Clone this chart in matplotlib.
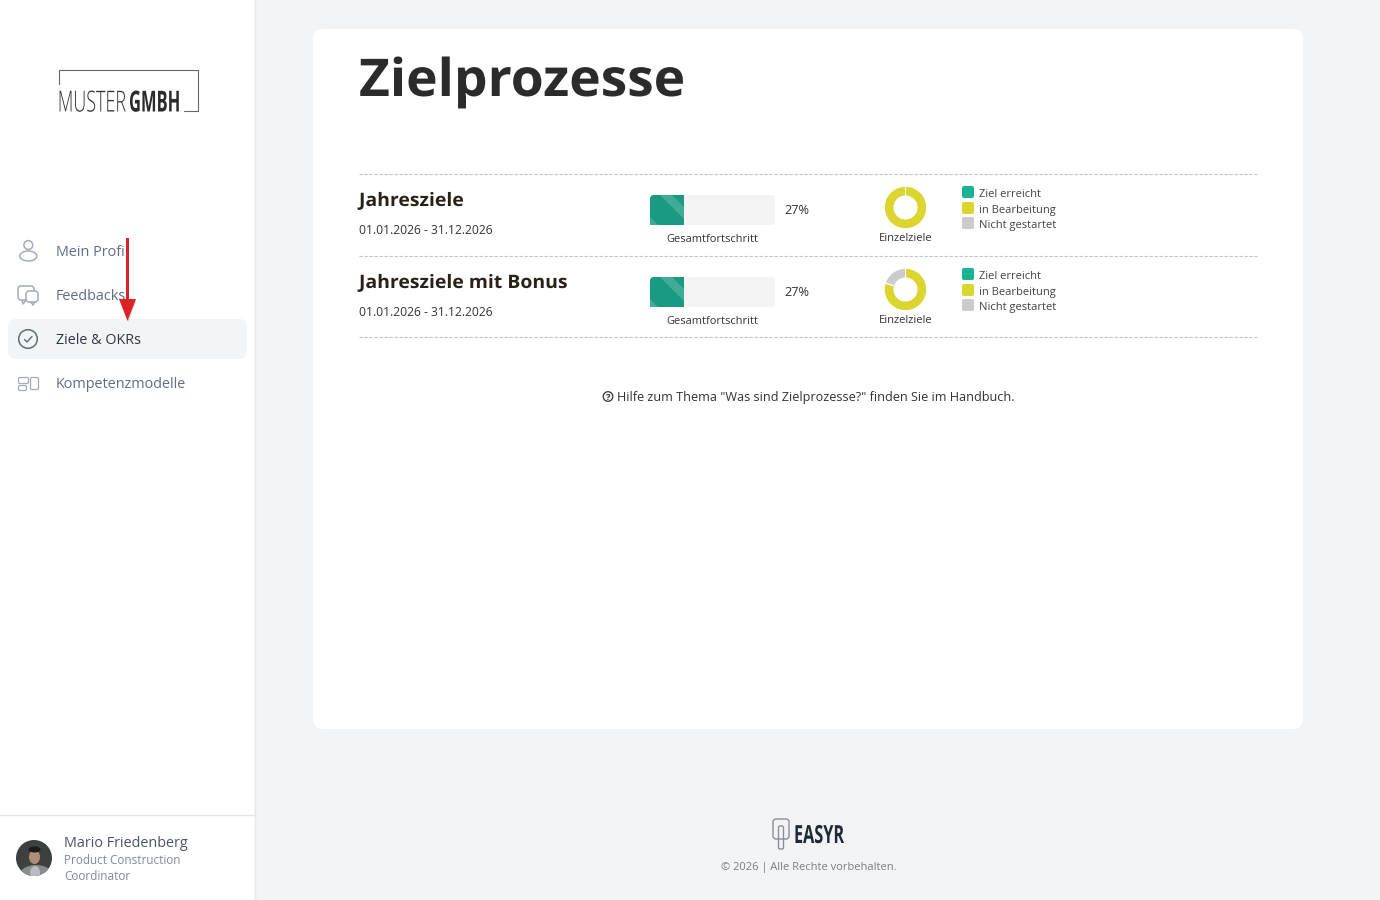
#!/usr/bin/env python3
import matplotlib
matplotlib.use('Agg')
import matplotlib.pyplot as plt
import matplotlib.patches as mplpatches
from matplotlib.patheffects import AbstractPathEffect
from matplotlib.transforms import Affine2D

# sidebar and page texts
nav_labels = ['Mein Profil', 'Feedbacks', 'Ziele & OKRs', 'Kompetenzmodelle']
page_title = 'Zielprozesse'
help_text = 'Hilfe zum Thema "Was sind Zielprozesse?" finden Sie im Handbuch.'
footer_text = '\u00a9 2026 | Alle Rechte vorbehalten.'
user_name = 'Mario Friedenberg'
user_role = ['Product Construction', 'Coordinator']

# one entry per goal process
goal_names = ['Jahresziele', 'Jahresziele mit Bonus']
goal_dates = ['01.01.2026 - 31.12.2026', '01.01.2026 - 31.12.2026']
progress_pct = [27, 27]

# share of single goals: reached, in progress, not started
status_labels = ['Ziel erreicht', 'in Bearbeitung', 'Nicht gestartet']
status_colors = ['#1ab394', '#dcd530', '#cccccc']
reached = [0, 0]
in_progress = [100, 80]
not_started = [0, 20]

plt.rcParams['font.family'] = ['Open Sans', 'DejaVu Sans']

W, H = 1380, 900
BG = '#f3f4f6'
ICON = '#a3abbb'
row_tops = [174, 256]


class Squeeze(AbstractPathEffect):
    # narrows or widens a text around an anchor x, for the condensed logos
    def __init__(self, x0, sx):
        super().__init__()
        self.x0 = x0
        self.sx = sx

    def draw_path(self, renderer, gc, tpath, affine, rgbFace=None):
        squeezed = affine + Affine2D().translate(-self.x0, 0).scale(self.sx, 1).translate(self.x0, 0)
        renderer.draw_path(gc, tpath, squeezed, rgbFace)


fig = plt.figure(figsize=(W / 100, H / 100), dpi=100, facecolor=BG)
page = fig.add_axes([0, 0, 1, 1])
page.set_xlim(0, W)
page.set_ylim(H, 0)
page.axis('off')


def px(size):
    return size * 0.72


def label(x, y, s, size, color='#333333', **kw):
    return page.text(x, y, s, fontsize=px(size), color=color, va='baseline', **kw)


def rbox(x, y, w, h, r, color, **kw):
    box = mplpatches.FancyBboxPatch((x + r, y + r), w - 2 * r, h - 2 * r,
                                    boxstyle='round,pad=%f,rounding_size=%f' % (r, r),
                                    facecolor=color, edgecolor='none', **kw)
    page.add_patch(box)
    return box


def stroke(xs, ys, color=ICON, lw=1.2, **kw):
    page.plot(xs, ys, color=color, lw=lw, solid_capstyle='round', **kw)


def outline(patch):
    page.add_patch(patch)


# sidebar and card
page.add_patch(mplpatches.Rectangle((0, 0), 255, H, facecolor='white', edgecolor='none'))
stroke([255, 255], [0, H], color='#e5e7eb', lw=1)
stroke([0, 255], [815, 815], color='#e5e7eb', lw=1)
rbox(313, 29, 990, 700, 10, 'white')
rbox(8, 319, 239, 40, 8, BG)

# logo
stroke([59, 59, 198, 198, 184], [84, 70, 70, 111, 111], color='#666666', lw=0.8)
t = label(126, 111.5, 'MUSTER', 29, color='#333333', fontweight='light', ha='right')
t.set_path_effects([Squeeze(126, 0.62)])
t = label(129, 111.5, 'GMBH', 29, color='#2b2b2b', fontweight='bold')
t.set_path_effects([Squeeze(129, 0.57)])

# nav
nav_base = [256, 300, 344, 388]
for i, name in enumerate(nav_labels):
    color = '#2d3748' if i == 2 else '#5f6f86'
    label(56, nav_base[i], name, 14.45, color=color)

# person icon
outline(mplpatches.Circle((28.3, 245), 4.4, fill=False, ec=ICON, lw=1.1))
outline(mplpatches.Ellipse((28.3, 256), 17, 10, fill=False, ec=ICON, lw=1.1))
# chat icon
outline(mplpatches.FancyBboxPatch((21, 289), 10, 8, boxstyle='round,pad=3,rounding_size=3', fill=False, ec=ICON, lw=1.1))
outline(mplpatches.FancyBboxPatch((28.5, 293.5), 7, 6, boxstyle='round,pad=2.5,rounding_size=3', fc='white', ec=ICON, lw=1.1))
stroke([22, 23, 26], [300, 304, 300], lw=1.1)
stroke([31, 33, 35], [302, 305, 302], lw=1.1)
# check icon
outline(mplpatches.Circle((28, 339), 9.3, fill=False, ec='#5f6b80', lw=1.1))
stroke([24.5, 27, 32], [339.5, 342, 336.5], color='#5f6b80', lw=1)
# model icon
outline(mplpatches.FancyBboxPatch((20, 379), 7, 3, boxstyle='round,pad=1.5,rounding_size=1.5', fill=False, ec=ICON, lw=0.9))
outline(mplpatches.FancyBboxPatch((20, 387), 5, 2, boxstyle='round,pad=1.5,rounding_size=1.5', fill=False, ec=ICON, lw=0.9))
outline(mplpatches.FancyBboxPatch((32, 379), 5, 9, boxstyle='round,pad=1.5,rounding_size=1.5', fill=False, ec=ICON, lw=0.9))

# red arrow on top of the nav
arrow_shadow = mplpatches.Polygon([(120.5, 301), (136.5, 301), (128.5, 322)], facecolor='#000000', alpha=0.12, edgecolor='none')
page.add_patch(arrow_shadow)
page.add_patch(mplpatches.Rectangle((126, 238), 3, 64, facecolor='#dd2226', edgecolor='none', zorder=5))
page.add_patch(mplpatches.Polygon([(119, 299), (136, 299), (127.5, 321)], facecolor='#dd2226', edgecolor='none', zorder=5))

# title
t = label(359, 96, page_title, 52, color='#2b2b2b', fontweight='bold')
t.set_path_effects([Squeeze(359, 1.025)])

# dashed rules
for y in [174, 256, 337]:
    page.plot([359, 1257], [y, y], color='#c4c4c4', lw=0.8, ls=(0, (3, 1.5)))

# goal rows
for i, name in enumerate(goal_names):
    top = row_tops[i]
    t = label(359, top + 32, name, 18.5, color='#2a2118', fontweight='bold')
    t.set_path_effects([Squeeze(359, 1.05)])
    label(359, top + 60, goal_dates[i], 12.1, color='#333333')

    # progress bar
    bar_x, bar_y, bar_w, bar_h = 650, top + 21, 125, 30
    track = rbox(bar_x, bar_y, bar_w, bar_h, 4, '#f4f4f4')
    bar_ax = fig.add_axes([bar_x / W, 1 - (bar_y + bar_h) / H, bar_w / W, bar_h / H])
    bar_ax.set_xlim(0, 100)
    bar_ax.set_ylim(0, 1)
    bar_ax.axis('off')
    bars = bar_ax.barh([0.5], [progress_pct[i]], height=1, color='#1a9a80')
    bars[0].set_clip_path(track)
    # lighter diagonal stripes of the fill
    fill_w = progress_pct[i] / 100 * bar_w
    for off in (-34, 10):
        stripe = mplpatches.Polygon(
            [(bar_x + off, bar_y), (bar_x + off + 12, bar_y),
             (bar_x + off + 42, bar_y + 30), (bar_x + off + 30, bar_y + 30)],
            facecolor='#40ac97', edgecolor='none', transform=page.transData)
        bar_ax.add_patch(stripe)
        clip = mplpatches.Rectangle((bar_x, bar_y), fill_w, bar_h, transform=page.transData)
        stripe.set_clip_path(clip)

    label(784.5, top + 40, '%d%%' % progress_pct[i], 12.7, color='#333333')
    label(712, top + 68, 'Gesamtfortschritt', 11, color='#333333', ha='center')

    # donut
    cx, cy = 905.5, top + 33.5
    box = 44
    don = fig.add_axes([(cx - box / 2) / W, 1 - (cy + box / 2) / H, box / W, box / H])
    don.pie([reached[i], in_progress[i], not_started[i]], colors=status_colors,
            startangle=90, counterclock=False,
            wedgeprops={'width': 0.46, 'edgecolor': 'white', 'linewidth': 0.8})
    lim = box / 42.5
    don.set_xlim(-lim, lim)
    don.set_ylim(-lim, lim)
    label(905.5, top + 67, 'Einzelziele', 11.1, color='#333333', ha='center')

    # status legend
    for j, status in enumerate(status_labels):
        sq_y = [12, 28, 43][j] + top
        rbox(962, sq_y, 12, 12, 2, status_colors[j])
        label(979, sq_y + 11, status, 11.1, color='#444444')

# help line
outline(mplpatches.Circle((608, 396.5), 4.8, fill=False, ec='#333333', lw=0.9))
label(608, 400, '?', 9.5, color='#333333', ha='center', fontweight='bold')
label(617, 401, help_text, 12.68, color='#333333')

# user
avatar = mplpatches.Circle((34, 858), 18, facecolor='#3c403f', edgecolor='none')
page.add_patch(avatar)
jacket = mplpatches.Ellipse((36, 876), 34, 22, facecolor='#8a8d8c', edgecolor='none')
page.add_patch(jacket)
jacket.set_clip_path(avatar)
shirt = mplpatches.Ellipse((35, 873), 10, 14, facecolor='#b9bcc2', edgecolor='none')
page.add_patch(shirt)
shirt.set_clip_path(avatar)
page.add_patch(mplpatches.Ellipse((34.5, 857), 11, 14, facecolor='#b08d78', edgecolor='none'))
page.add_patch(mplpatches.Ellipse((34.5, 849.5), 12, 6, facecolor='#1c1a1a', edgecolor='none'))
label(64, 847, user_name, 14.4, color='#4a5568')
label(64, 864, user_role[0], 11.8, color='#7a8aa5')
label(64, 880, user_role[1], 11.8, color='#7a8aa5')

# footer logo
outline(mplpatches.FancyBboxPatch((776, 822), 10, 14, boxstyle='round,pad=3,rounding_size=3', fill=False, ec='#8a8f9a', lw=1))
outline(mplpatches.FancyBboxPatch((779.5, 827), 3, 21, boxstyle='round,pad=1,rounding_size=1.5', fill=False, ec='#8a8f9a', lw=1))
t = label(794, 843, 'EASYR', 25, color='#1f2937', fontweight='bold')
t.set_path_effects([Squeeze(794, 0.65)])
label(808.5, 870, footer_text, 11.15, color='#7b7f86', ha='center')

fig.savefig('out.png', dpi=100, facecolor=BG)
